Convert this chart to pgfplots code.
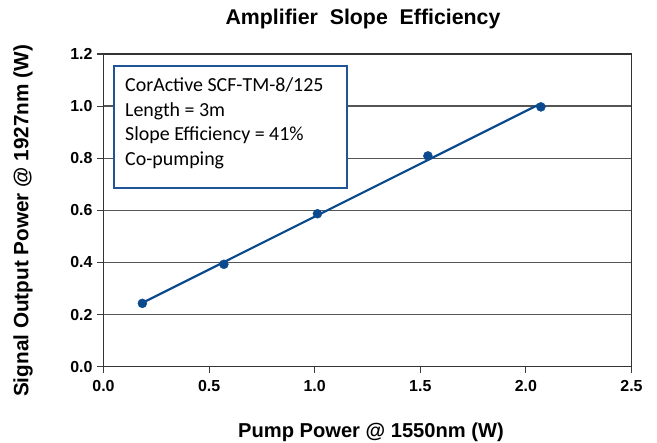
\documentclass[border=0pt]{standalone}
\usepackage{pgfplots}
\pgfplotsset{compat=1.18}
\usepackage{fontspec}
\setmainfont{Liberation Sans}
\newfontfamily\calibri{Carlito}
\definecolor{dataBlue}{HTML}{0B4A8F}
\definecolor{boxBlue}{HTML}{1F5596}
\definecolor{gridGray}{HTML}{555555}
\begin{document}
\begin{tikzpicture}
\useasboundingbox (0,0) rectangle (657bp,443bp);
\begin{axis}[
  at={(103.5bp,76.3bp)}, anchor=south west,
  scale only axis, width=528bp, height=312.7bp,
  xmin=0, xmax=2.5, ymin=0, ymax=1.2,
  xtick={0,0.5,...,2.5}, ytick={0,0.2,...,1.2},
  /pgf/number format/fixed, /pgf/number format/fixed zerofill, /pgf/number format/precision=1,
  /pgf/number format/assume math mode=true,
  ticklabel style={font=\bfseries\fontsize{16}{16}\selectfont},
  xticklabel style={yshift=-4bp},
  yticklabel style={xshift=-1bp},
  tick pos=left, tick align=outside, major tick length=6.5bp,
  tick style={gridGray!70!black, line width=1.1bp},
  ymajorgrids, grid style={gridGray, line width=1.3bp},
  axis line style={black!80, line width=1.3bp},
  clip=false,
]
\addplot[dataBlue, line width=2.2bp, no marks] coordinates {(0.184,0.245) (2.071,1.010)};
\addplot[only marks, mark=*, mark size=4.5bp, dataBlue] coordinates {
  (0.184,0.243) (0.570,0.393) (1.013,0.587) (1.536,0.809) (2.071,0.997)};
\end{axis}
\node[font=\bfseries\fontsize{21.4}{21.4}\selectfont] at (363bp,424bp) {Amplifier\ \ Slope\ \ Efficiency};
\node[font=\bfseries\fontsize{20.2}{20.2}\selectfont] at (371bp,11bp) {Pump Power @ 1550nm (W)};
\node[font=\bfseries\fontsize{20.8}{20.8}\selectfont, rotate=90] at (23bp,222bp) {Signal Output Power @ 1927nm (W)};
\node[draw=boxBlue, line width=2bp, fill=white, anchor=north west, minimum width=233bp, minimum height=122bp, inner sep=0pt] at (113bp,378bp) {};
\begin{scope}[every node/.style={anchor=base west, inner sep=0pt, font=\calibri\fontsize{20}{20}\selectfont}]
\node at (125bp,351.3bp) {CorActive SCF-TM-8/125};
\node at (125bp,326.3bp) {Length = 3m};
\node at (125bp,302.3bp) {Slope Efficiency = 41\%};
\node at (125bp,277bp) {Co-pumping};
\end{scope}
\end{tikzpicture}
\end{document}
